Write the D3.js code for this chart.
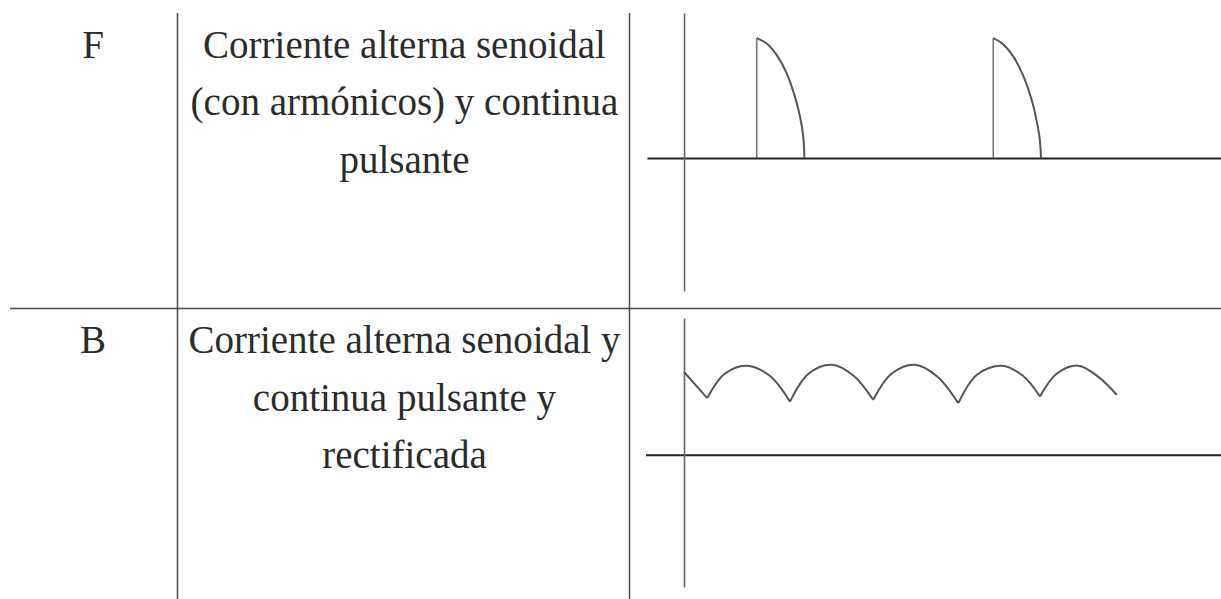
<!DOCTYPE html>
<html>
<head>
<meta charset="utf-8">
<script src="https://cdn.jsdelivr.net/npm/d3@7"></script>
<style>
  html, body { margin: 0; padding: 0; background: #fff; }
  svg { display: block; }
</style>
</head>
<body>
<svg id="chart" width="1221" height="599"></svg>
<script>
// ---------- data ----------
const rowLabels = ["F", "B"];
const descF = ["Corriente alterna senoidal", "(con armónicos) y continua", "pulsante"];
const descB = ["Corriente alterna senoidal y", "continua pulsante y", "rectificada"];

// Row F: phase-cut pulses (time in ms, value normalized to peak)
const pulse1T = [6.16, 7.0, 7.86, 8.7, 9.4, 9.83, 10.1, 10.2];
const pulse1V = [1.0, 0.956, 0.858, 0.706, 0.51, 0.344, 0.178, 0.0];
const pulse2T = [26.2, 27.03, 27.88, 28.73, 29.41, 29.83, 30.13, 30.25];
const pulse2V = [1.0, 0.95, 0.85, 0.69, 0.5, 0.333, 0.167, 0.0];

// Row B: rectified pulsating wave (time in ms, value normalized)
const rectT = [0, 2.8, 4.9, 7.55, 10.3, 12.77, 15.0, 17.8, 20.4, 22.8, 25.0, 27.83, 30.5, 33.05, 35.3, 38.27, 40.8, 42.89, 44.9, 47.5, 50.0, 52.13];
const rectV = [0.92, 0.63, 0.9, 0.99, 0.88, 0.59, 0.9, 1.0, 0.88, 0.61, 0.9, 1.0, 0.87, 0.574, 0.89, 0.99, 0.88, 0.648, 0.9, 0.99, 0.86, 0.667];
// which points are cusps (minima) where the arcs meet
const rectCusp = [false, true, false, false, false, true, false, false, false, true, false, false, false, true, false, false, false, true, false, false, false, false];

// ---------- layout ----------
const svg = d3.select("#chart");
const W = 1221, H = 599;
const col1 = 177.5, col2 = 629.5, tableTop = 13, rowSep = 308.5;
const textColor = "#2b2b2b";
const lineColor = "#4a4a4a";

// table grid
svg.append("line").attr("x1", col1).attr("x2", col1).attr("y1", tableTop).attr("y2", H)
  .attr("stroke", lineColor).attr("stroke-width", 1.5);
svg.append("line").attr("x1", col2).attr("x2", col2).attr("y1", tableTop).attr("y2", H)
  .attr("stroke", lineColor).attr("stroke-width", 1.5);
svg.append("line").attr("x1", 10).attr("x2", W).attr("y1", rowSep).attr("y2", rowSep)
  .attr("stroke", lineColor).attr("stroke-width", 1.5);

// text
const fontSize = 39, lineH = 57.5;
const rowTops = [tableTop, rowSep];
const descs = [descF, descB];
rowLabels.forEach((lab, i) => {
  const base = rowTops[i] + 44.5;
  svg.append("text").attr("x", 93).attr("y", base)
    .attr("text-anchor", "middle")
    .attr("font-family", "'Liberation Serif', serif").attr("font-size", fontSize)
    .attr("fill", textColor).text(lab);
  descs[i].forEach((ln, j) => {
    svg.append("text").attr("x", (col1 + col2) / 2 + 1).attr("y", base + j * lineH)
      .attr("text-anchor", "middle")
      .attr("font-family", "'Liberation Serif', serif").attr("font-size", fontSize)
      .attr("fill", textColor).text(ln);
  });
});

// ---------- F chart ----------
const xF = d3.scaleLinear().domain([-3.14, 45.5]).range([647, 1221]);
const yF = d3.scaleLinear().domain([-1.11, 1.21]).range([291, 13]);

const gF = svg.append("g");
gF.append("g").attr("transform", `translate(0,${yF(0)})`)
  .call(d3.axisBottom(xF).ticks(0).tickSizeOuter(0))
  .call(g => g.select(".domain").attr("stroke", "#222").attr("stroke-width", 2));
gF.append("g").attr("transform", `translate(${xF(0)},0)`)
  .call(d3.axisLeft(yF).ticks(0).tickSizeOuter(0))
  .call(g => g.select(".domain").attr("stroke", "#666").attr("stroke-width", 1.6));

[[pulse1T, pulse1V], [pulse2T, pulse2V]].forEach(([T, V]) => {
  const pts = T.map((t, k) => [t, V[k]]);
  // vertical rising edge
  gF.append("line").attr("x1", xF(T[0])).attr("x2", xF(T[0]))
    .attr("y1", yF(0)).attr("y2", yF(V[0]))
    .attr("stroke", "#777").attr("stroke-width", 1.6);
  gF.append("path").attr("d", d3.line().x(d => xF(d[0])).y(d => yF(d[1])).curve(d3.curveCatmullRom)(pts))
    .attr("fill", "none").attr("stroke", "#555").attr("stroke-width", 2);
});

// ---------- B chart ----------
const xB = d3.scaleLinear().domain([-4.64, 64.7]).range([645.5, 1221]);
const yB = d3.scaleLinear().domain([-1.47, 1.52]).range([587, 318]);

const gB = svg.append("g");
gB.append("g").attr("transform", `translate(0,${yB(0)})`)
  .call(d3.axisBottom(xB).ticks(0).tickSizeOuter(0))
  .call(g => g.select(".domain").attr("stroke", "#222").attr("stroke-width", 2));
gB.append("g").attr("transform", `translate(${xB(0)},0)`)
  .call(d3.axisLeft(yB).ticks(0).tickSizeOuter(0))
  .call(g => g.select(".domain").attr("stroke", "#666").attr("stroke-width", 1.6));

// split the rectified wave into arcs at cusp points
const segs = [];
let cur = [];
rectT.forEach((t, k) => {
  cur.push([t, rectV[k]]);
  if (rectCusp[k]) { segs.push(cur); cur = [[t, rectV[k]]]; }
});
if (cur.length > 1) segs.push(cur);
const arcLine = d3.line().x(d => xB(d[0])).y(d => yB(d[1])).curve(d3.curveCatmullRom.alpha(0.5));
segs.forEach(s => {
  gB.append("path").attr("d", arcLine(s))
    .attr("fill", "none").attr("stroke", "#555").attr("stroke-width", 2)
    .attr("stroke-linejoin", "round");
});
</script>
</body>
</html>
